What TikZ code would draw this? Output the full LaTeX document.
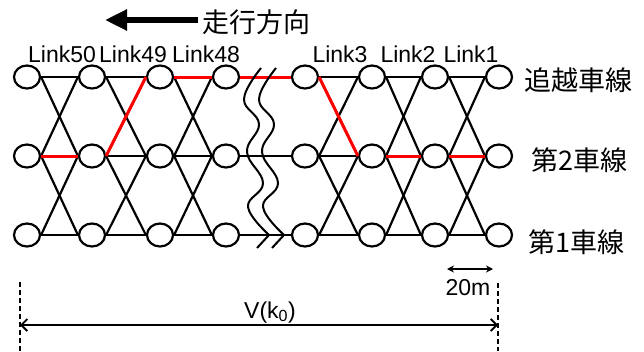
\documentclass[tikz,border=0pt]{standalone}
\usepackage{fontspec}
\setmainfont{Liberation Sans}
\newfontfamily\jpfont{Noto Sans CJK JP}
\usetikzlibrary{arrows.meta, shapes.geometric}

\begin{document}
\begin{tikzpicture}[x=1pt, y=-1pt, line width=2.2pt,
    stn/.style={draw, fill=white, ellipse, minimum width=26pt, minimum height=23pt, inner sep=0pt},
    redlink/.style={draw=red, line width=3pt},
    linklbl/.style={anchor=base, font=\fontsize{23}{23}\selectfont},
    lanelbl/.style={anchor=west, font=\jpfont\fontsize{27}{27}\selectfont}]
  \useasboundingbox (0,0) rectangle (644,351);
  % stations: top (t), middle (m), bottom (b)
  \foreach \x [count=\i] in {27,92,160,226,305,372,435,499} {
    \node[stn] (t\i) at (\x,77) {};
    \node[stn] (m\i) at (\x,156) {};
    \node[stn] (b\i) at (\x,235) {};
  }
  % links along each lane
  \foreach \i/\j in {1/2,2/3,3/4,4/5,5/6,6/7,7/8} {
    \draw (t\i.east) -- (t\j.west);
    \draw (m\i.east) -- (m\j.west);
    \draw (b\i.east) -- (b\j.west);
  }
  % lane changes
  \foreach \i/\j in {1/2,2/3,3/4,5/6,6/7,7/8} {
    \draw (t\i.east) -- (m\j.west);
    \draw (m\i.east) -- (t\j.west);
    \draw (m\i.east) -- (b\j.west);
    \draw (b\i.east) -- (m\j.west);
  }
  % chosen route
  \draw[redlink] (m1.east) -- (m2.west);
  \draw[redlink] (m2.east) -- (t3.west);
  \draw[redlink] (t3.east) -- (t4.west);
  \draw[redlink] (t4.east) -- (t5.west);
  \draw[redlink] (t5.east) -- (m6.west);
  \draw[redlink] (m6.east) -- (m7.west);
  \draw[redlink] (m7.east) -- (m8.west);
  % break marks
  \foreach \dx in {0,15} {
    \begin{scope}[xshift=\dx pt]
      \draw[line width=2pt] plot[smooth, tension=0.7] coordinates {(261,68) (244,99) (259,124) (247,152) (263,183) (248,207) (269,235)} -- (257,248);
    \end{scope}
  }
  % labels
  \node[linklbl] (l50) at (62,62) {Link50};
  \node[linklbl] (l49) at (133,62) {Link49};
  \node[linklbl] (l48) at (206,62) {Link48};
  \node[linklbl] (l3) at (340,62) {Link3};
  \node[linklbl] (l2) at (408,62) {Link2};
  \node[linklbl] (l1) at (471,62) {Link1};
  \node[lanelbl] (lane3) at (520,80) {追越車線};
  \node[lanelbl] (lane2) at (527,160) {第2車線};
  \node[lanelbl] (lane1) at (524,242) {第1車線};
  % travel direction
  \node[lanelbl] (dir) at (198,22) {走行方向};
  \coordinate (dirtip) at (105,20);
  \draw[line width=6.5pt, -{Triangle[length=22pt,width=20pt]}] (dir.west |- dirtip) -- (dirtip);
  % section length
  \coordinate (vl) at (20,282);
  \coordinate (vlb) at (20,351);
  \coordinate (vr) at (498,283);
  \coordinate (vrb) at (498,351);
  \draw[line width=1.8pt, dash pattern=on 5pt off 3pt] (vl) -- (vlb);
  \draw[line width=1.8pt, dash pattern=on 5pt off 3pt] (vr) -- (vrb);
  \coordinate (va) at (20,325);
  \coordinate (vb) at (498,325);
  \draw[line width=1.8pt, {Straight Barb[length=6pt,width=12pt]}-{Straight Barb[length=6pt,width=12pt]}] (va) -- (vb);
  \node[linklbl] (vlab) at (270,318) {V(k\textsubscript{0})};
  % link length
  \coordinate (sa) at (447,269);
  \coordinate (sb) at (493,269);
  \draw[line width=1.5pt, {Stealth[length=7pt,width=7pt]}-{Stealth[length=7pt,width=7pt]}] (sa) -- (sb);
  \node[linklbl] (dist) at (468,295) {20m};
\end{tikzpicture}
\end{document}
